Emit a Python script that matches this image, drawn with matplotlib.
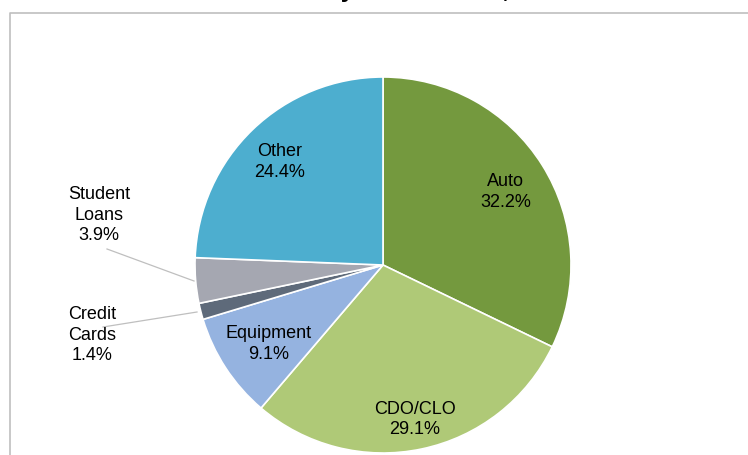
import numpy as np
import matplotlib.pyplot as plt

plt.rcParams['font.family'] = ['Liberation Sans', 'DejaVu Sans']

# data
categories = ["Auto", "CDO/CLO", "Equipment", "Credit\nCards", "Student\nLoans", "Other"]
shares = [32.2, 29.1, 9.1, 1.4, 3.9, 24.4]
colors = ["#74993E", "#AFC977", "#95B3E0", "#5E6A7A", "#A5A7B1", "#4DAECF"]

W, H = 748, 455
fig = plt.figure(figsize=(W / 100, H / 100), dpi=100)
ax = fig.add_axes([0, 0, 1, 1])

cx, cy, R = 383, H - 265, 188
wedges, _ = ax.pie(shares, colors=colors, startangle=90, counterclock=False,
                   center=(cx, cy), radius=R, frame=True,
                   wedgeprops=dict(edgecolor='white', linewidth=1.2))
ax.set_xlim(0, W)
ax.set_ylim(0, H)
ax.axis('off')

# chart border (cropped)
ax.plot([10, 10, W], [0, H - 13, H - 13], color="#BFBFBF", lw=1.2, clip_on=False)

# title, mostly cut off at the top
ax.text(362, H + 2.5, "ABS Issuance by Asset Class, 2013", ha='center', va='baseline',
        fontsize=18, fontweight='bold')

fs = 13
# inside labels
inside = {0: 0.77, 1: 0.82, 2: 0.73, 5: 0.79}
for i, frac in inside.items():
    w = wedges[i]
    ang = np.deg2rad((w.theta1 + w.theta2) / 2)
    x = cx + R * frac * np.cos(ang)
    y = cy + R * frac * np.sin(ang) - 4
    ax.text(x, y, f"{categories[i]}\n{shares[i]:.1f}%", ha='center', va='center',
            fontsize=fs, linespacing=1.25)

# outside labels with leader lines
outside = {4: ((99, 215), (107, 249), (194, 281)),
           3: ((92, 335), (103, 327), (197, 312))}
for i, (txt, p0, p1) in outside.items():
    ax.text(txt[0], H - txt[1], f"{categories[i]}\n{shares[i]:.1f}%", ha='center',
            va='center', fontsize=fs, linespacing=1.25)
    ax.plot([p0[0], p1[0]], [H - p0[1], H - p1[1]], color="#BFBFBF", lw=0.9)

fig.savefig("out.png", dpi=100)
